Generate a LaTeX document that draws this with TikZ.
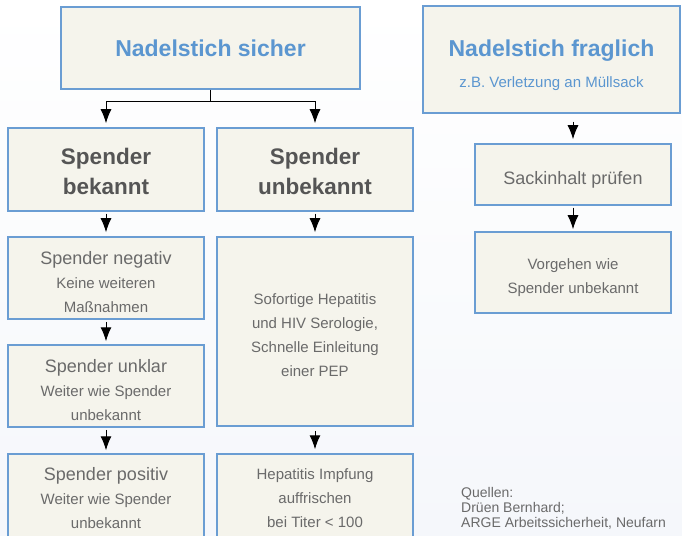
\documentclass[tikz,border=0pt]{standalone}
\usepackage{fontspec}
\setmainfont{Liberation Sans}
\usepackage{xcolor}
\definecolor{boxFill}{HTML}{F5F4EC}
\definecolor{boxLine}{HTML}{6A9DD3}
\definecolor{titleBlue}{HTML}{5B96D0}
\definecolor{headGray}{HTML}{555555}
\definecolor{textGray}{HTML}{6A6A6A}
\definecolor{bgBottom}{HTML}{F5F7FB}
\usetikzlibrary{arrows.meta}
\tikzset{
  flowbox/.style={draw=boxLine, fill=boxFill, line width=1.5bp, align=center,
    inner sep=0pt, minimum width=196bp, text=textGray,
    font=\fontsize{15bp}{24bp}\selectfont},
  headbox/.style={flowbox, text=headGray,
    font=\fontsize{22.5bp}{30bp}\selectfont\bfseries},
  titlebox/.style={flowbox, text=titleBlue,
    font=\fontsize{23bp}{31bp}\selectfont\bfseries},
  flowarrow/.style={-{Latex[length=14bp,width=11bp]}, line width=1bp, black},
}
\newcommand{\bigline}{\fontsize{18bp}{24bp}\selectfont}
\newcommand{\lift}[1]{\rule{0pt}{#1bp}}

\begin{document}
\begin{tikzpicture}[x=1bp,y=-1bp]
  \shade[top color=white, bottom color=bgBottom] (0,0) rectangle (682,536);
  \useasboundingbox (0,0) rectangle (682,536);
  \clip (0,0) rectangle (682,536);
  % left part
  \node[titlebox, minimum width=299bp, minimum height=82bp] (sicher) at (210.5,48) {Nadelstich sicher};
  \node[headbox, minimum height=83bp] (bekannt) at (106,169.5) {\lift{21}Spender\\bekannt};
  \node[headbox, minimum height=83bp] (unbekannt) at (315,169.5) {\lift{21}Spender\\unbekannt};
  \node[flowbox, minimum height=82bp] (negativ) at (106,278) {{\bigline\lift{21}Spender negativ}\\Keine weiteren\\Maßnahmen};
  \node[flowbox, minimum height=82bp] (unklar) at (106,386) {{\bigline\lift{21}Spender unklar}\\Weiter wie Spender\\unbekannt};
  \node[flowbox, minimum height=88bp] (positiv) at (106,498) {{\bigline Spender positiv}\\Weiter wie Spender\\unbekannt};
  \node[flowbox, minimum height=189bp] (sofort) at (315,331.5) {\lift{18}Sofortige Hepatitis\\und HIV Serologie,\\Schnelle Einleitung\\einer PEP};
  \node[flowbox, minimum height=88bp] (impfung) at (315,498) {Hepatitis Impfung\\auffrischen\\bei Titer < 100};
  % right part
  \node[titlebox, minimum width=257bp, minimum height=107bp] (fraglich) at (551.5,59.5) {\lift{28}Nadelstich fraglich\\{\mdseries\fontsize{15bp}{24bp}\selectfont z.B. Verletzung an Müllsack}};
  \node[flowbox, minimum height=61bp] (sack) at (573,174.5) {\bigline\lift{23}Sackinhalt prüfen};
  \node[flowbox, minimum height=81bp] (vorgehen) at (573,272.5) {\lift{21}Vorgehen wie\\Spender unbekannt};
  \node[anchor=north west, align=left, text=textGray, inner sep=0pt,
    font=\fontsize{14bp}{15bp}\selectfont] (quellen) at (461,487) {Quellen:\\Drüen Bernhard;\\ARGE Arbeitssicherheit, Neufarn};
  % connectors
  \coordinate (split) at (210.5,102);
  \draw[line width=1bp] (sicher.south) -- (split);
  \draw[flowarrow, shorten >=4bp] (split) -| (bekannt.north);
  \draw[flowarrow, shorten >=4bp] (split) -| (unbekannt.north);
  \draw[flowarrow, shorten <=2bp, shorten >=4bp] (bekannt) -- (negativ);
  \draw[flowarrow, shorten <=2bp, shorten >=3bp] (negativ) -- (unklar);
  \draw[flowarrow, shorten <=2bp, shorten >=3bp] (unklar) -- (positiv);
  \draw[flowarrow, shorten <=2bp, shorten >=4bp] (unbekannt) -- (sofort);
  \draw[flowarrow, shorten <=4bp, shorten >=4bp] (sofort) -- (impfung);
  \draw[flowarrow, shorten <=8bp, shorten >=4bp] (fraglich.south -| sack.north) -- (sack.north);
  \draw[flowarrow, shorten <=2bp, shorten >=2bp] (sack) -- (vorgehen);
\end{tikzpicture}
\end{document}
